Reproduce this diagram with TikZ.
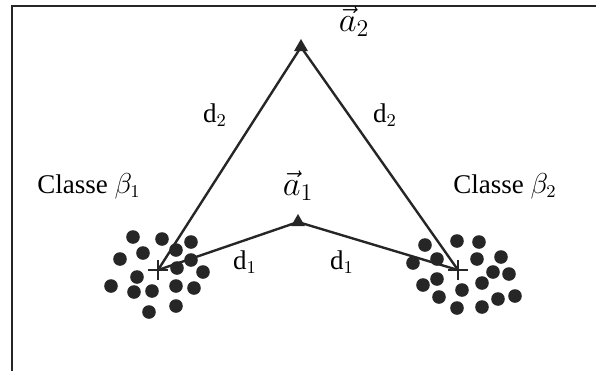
\documentclass[tikz,border=0pt]{standalone}
\usepackage{fontspec}
\setmainfont{Liberation Serif}
\usetikzlibrary{shapes.geometric}

\begin{document}
\begin{tikzpicture}[
  x=0.5pt, y=-0.5pt,
  font=\fontsize{13.5}{16}\selectfont,
  edge/.style={line width=1.2pt, black!85},
  apex/.style={regular polygon, regular polygon sides=3, fill=black!85,
               inner sep=0pt, minimum size=8pt},
  centre/.style={minimum size=10pt, inner sep=0pt,
    path picture={\draw[line width=1.2pt, black!85]
      (path picture bounding box.north) -- (path picture bounding box.south)
      (path picture bounding box.west) -- (path picture bounding box.east);}},
  lbl/.style={inner sep=1pt},
  vec/.style={inner sep=1pt, font=\fontsize{17}{20}\selectfont},
  dot/.style={fill=black!85}
]
\useasboundingbox (0,0) rectangle (596,371);
\draw[line width=1pt, black!85] (12,371) -- (12,6) -- (596,6);

% class points
\foreach \x/\y in {133/237, 162/239, 191/242, 143/253, 176/250, 120/259,
  191/260, 177/268, 203/272, 137/277, 111/286, 134/292, 152/291, 176/286,
  194/288, 149/312, 176/306}
  \fill[dot] (\x,\y) circle[radius=3.4pt];
\foreach \x/\y in {425/245, 457/241, 479/242, 413/263, 437/259, 477/259,
  501/257, 493/272, 509/274, 423/285, 437/279, 462/290, 482/283, 439/297,
  457/308, 482/307, 498/299, 515/296}
  \fill[dot] (\x,\y) circle[radius=3.4pt];

\node (c1) [centre] at (158,270) {};
\node (c2) [centre] at (458,270) {};
\node (a2) [apex] at (301,47) {};
\node (a1) [apex] at (298,222) {};

\draw[edge] (a2.center) -- (c1.center);
\draw[edge] (a2.center) -- (c2.center);
\draw[edge] (a1.center) -- (c1.center);
\draw[edge] (a1.center) -- (c2.center);

\node (la2) [vec] at (354,22) {$\vec{a}_2$};
\node (la1) [vec] at (298,186) {$\vec{a}_1$};
\node (cl1) [lbl] at (89,186) {Classe $\beta_1$};
\node (cl2) [lbl] at (505,186) {Classe $\beta_2$};
\node (d2l) [lbl] at (215,115) {d$_2$};
\node (d2r) [lbl] at (385,115) {d$_2$};
\node (d1l) [lbl] at (245,262) {d$_1$};
\node (d1r) [lbl] at (342,262) {d$_1$};
\end{tikzpicture}
\end{document}
